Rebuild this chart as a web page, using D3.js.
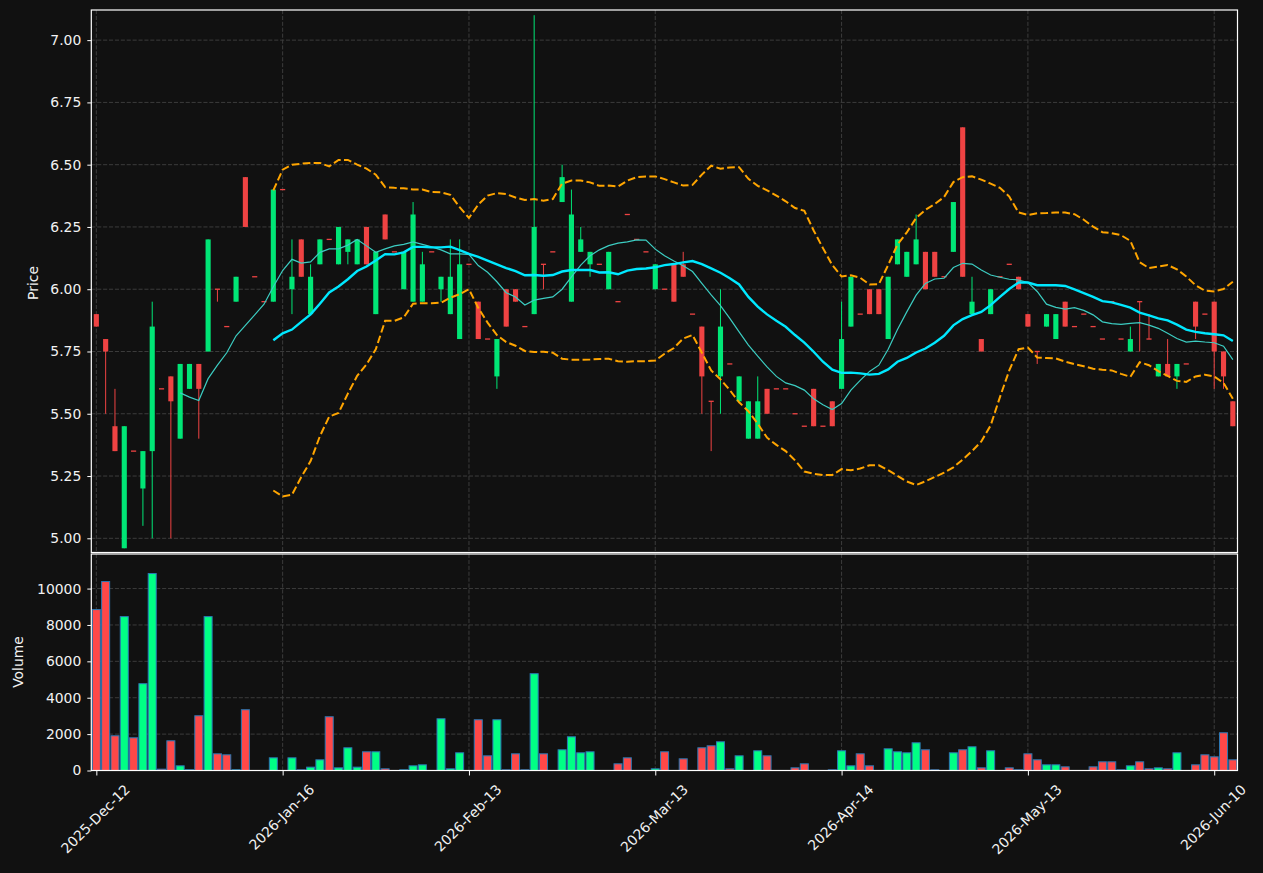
<!DOCTYPE html>
<html><head><meta charset="utf-8">
<script src="https://cdn.jsdelivr.net/npm/d3@7"></script>
<style>
body{margin:0;background:#111111;}
svg{display:block;}
text{font-family:"DejaVu Sans",sans-serif;}
</style>
</head><body>
<svg id="chart" width="1263" height="873"></svg>
<script>
// ---------------- data ----------------
const xTickIndex = [0, 20, 40, 60, 80, 100, 120];
const xTickLabels = ["2025-Dec-12","2026-Jan-16","2026-Feb-13","2026-Mar-13","2026-Apr-14","2026-May-13","2026-Jun-10"];
const priceTicks = [5.00, 5.25, 5.50, 5.75, 6.00, 6.25, 6.50, 6.75, 7.00];
const volumeTicks = [0, 2000, 4000, 6000, 8000, 10000];

const opens = [
5.90,5.80,5.45,4.96,5.35,5.20,5.35,5.60,5.65,5.40,
5.60,5.70,5.75,6.00,5.85,5.95,6.45,6.05,5.95,5.95,
6.40,6.00,6.20,5.90,6.10,6.20,6.10,6.15,6.10,6.25,
5.90,6.30,6.15,6.00,5.95,5.95,6.15,6.00,5.90,5.80,
6.10,5.95,5.80,5.65,6.00,6.00,5.85,5.90,6.10,6.15,
6.35,5.95,6.15,6.10,6.10,6.00,5.95,6.30,6.20,6.15,
6.00,6.00,6.10,6.10,5.90,5.85,5.55,5.65,5.70,5.55,
5.40,5.40,5.60,5.60,5.60,5.50,5.45,5.60,5.45,5.55,
5.60,5.85,5.90,6.00,6.00,5.80,6.10,6.05,6.10,6.15,
6.15,6.05,6.15,6.65,5.90,5.80,5.90,6.05,6.10,6.05,
5.90,5.75,5.85,5.80,5.95,5.85,5.90,5.85,5.80,5.95,
5.80,5.75,5.95,5.80,5.65,5.70,5.65,5.70,5.95,5.90,
5.95,5.75,5.55];
const highs = [
5.90,5.80,5.60,5.45,5.35,5.35,5.95,5.60,5.65,5.70,
5.70,5.70,6.20,6.00,5.85,6.05,6.45,6.05,5.95,6.40,
6.40,6.20,6.20,6.10,6.20,6.20,6.25,6.20,6.20,6.25,
6.15,6.30,6.15,6.15,6.35,6.15,6.15,6.05,6.20,6.20,
6.10,5.95,5.80,5.80,6.00,6.00,5.85,7.10,6.10,6.15,
6.50,6.40,6.25,6.15,6.10,6.15,5.95,6.30,6.20,6.15,
6.10,6.00,6.10,6.15,5.90,5.85,5.55,6.00,5.70,5.65,
5.55,5.65,5.60,5.60,5.60,5.50,5.45,5.60,5.45,5.55,
5.95,6.05,5.90,6.00,6.00,6.05,6.20,6.15,6.30,6.15,
6.15,6.05,6.35,6.65,6.05,5.80,6.00,6.05,6.10,6.05,
5.90,5.75,5.90,5.90,5.95,5.85,5.90,5.85,5.80,5.95,
5.80,5.85,5.95,5.90,5.70,5.80,5.70,5.70,5.95,5.90,
5.95,5.75,5.55];
const lows = [
5.85,5.50,5.35,4.96,5.35,5.05,5.00,5.60,5.00,5.40,
5.60,5.40,5.75,5.95,5.85,5.95,6.25,6.05,5.95,5.95,
6.40,5.90,6.05,5.90,6.10,6.20,6.10,6.10,6.10,6.10,
5.90,6.20,6.15,6.00,5.95,5.95,6.15,5.95,5.90,5.80,
6.10,5.80,5.80,5.60,5.85,5.95,5.85,5.90,6.00,6.15,
6.35,5.95,6.15,6.05,6.10,6.00,5.95,6.30,6.20,6.15,
6.00,6.00,5.95,6.05,5.90,5.50,5.35,5.50,5.70,5.55,
5.40,5.40,5.50,5.60,5.60,5.50,5.45,5.45,5.45,5.45,
5.60,5.85,5.90,5.90,5.90,5.80,6.10,6.05,6.10,6.00,
6.05,6.05,6.15,6.05,5.90,5.75,5.90,6.05,6.10,6.00,
5.85,5.70,5.85,5.80,5.85,5.85,5.90,5.85,5.80,5.95,
5.80,5.75,5.75,5.80,5.65,5.65,5.60,5.70,5.80,5.90,
5.60,5.60,5.45];
const closes = [
5.85,5.75,5.35,5.45,5.35,5.35,5.85,5.60,5.55,5.70,
5.70,5.60,6.20,6.00,5.85,6.05,6.25,6.05,5.95,6.40,
6.40,6.05,6.05,6.05,6.20,6.20,6.25,6.20,6.20,6.10,
6.15,6.20,6.15,6.15,6.30,6.10,6.15,6.05,6.05,6.10,
6.10,5.80,5.80,5.80,5.85,5.95,5.85,6.25,6.10,6.15,
6.45,6.30,6.20,6.15,6.10,6.15,5.95,6.30,6.20,6.15,
6.10,6.00,5.95,6.05,5.90,5.65,5.55,5.85,5.70,5.65,
5.55,5.55,5.50,5.60,5.60,5.50,5.45,5.45,5.45,5.45,
5.80,6.05,5.90,5.90,5.90,6.05,6.20,6.15,6.20,6.00,
6.05,6.05,6.35,6.05,5.95,5.75,6.00,6.05,6.10,6.00,
5.85,5.75,5.90,5.90,5.85,5.85,5.90,5.85,5.80,5.95,
5.80,5.80,5.95,5.80,5.70,5.65,5.70,5.70,5.85,5.90,
5.75,5.65,5.45];
const volumes = [
8845,10386,1908,8459,1798,4771,10826,73,1633,257,
40,3009,8459,917,862,40,3340,0,0,697,
0,697,37,184,587,2954,147,1248,184,1028,
1028,92,0,37,257,312,0,2844,92,973,
0,2789,807,2789,37,917,37,5321,917,0,
1138,1853,973,1028,0,0,367,697,0,0,
92,1028,0,642,0,1248,1358,1578,92,807,
0,1083,807,0,0,147,367,0,0,37,
1083,257,917,257,0,1193,1028,973,1523,1138,
37,0,973,1138,1303,147,1083,0,147,37,
917,587,312,312,202,0,0,202,477,477,
37,257,477,92,147,92,973,0,312,862,
752,2074,587];

// indicator lines (null where not drawn)
const ma10 = [
null,null,null,null,null,null,null,null,null,5.584,
5.567,5.553,5.641,5.695,5.745,5.813,5.855,5.897,5.940,6.010,
6.075,6.120,6.105,6.110,6.148,6.162,6.162,6.177,6.200,6.174,
6.148,6.162,6.174,6.180,6.190,6.180,6.170,6.158,6.142,6.142,
6.140,6.095,6.068,6.030,5.986,5.969,5.937,5.956,5.963,5.969,
6.000,6.050,6.097,6.134,6.158,6.175,6.185,6.190,6.198,6.197,
6.161,6.134,6.113,6.094,6.071,6.023,5.977,5.934,5.883,5.829,
5.776,5.731,5.688,5.650,5.624,5.613,5.595,5.560,5.536,5.517,
5.541,5.595,5.634,5.670,5.695,5.759,5.838,5.909,5.976,6.023,
6.041,6.044,6.087,6.104,6.101,6.077,6.057,6.048,6.040,6.037,
6.027,5.991,5.940,5.927,5.920,5.926,5.915,5.897,5.869,5.862,
5.859,5.863,5.866,5.856,5.843,5.823,5.802,5.788,5.792,5.788,
5.785,5.771,5.717];
const ma20 = [
null,null,null,null,null,null,null,null,null,null,
null,null,null,null,null,null,null,null,null,5.795,
5.823,5.838,5.869,5.899,5.942,5.987,6.011,6.040,6.073,6.091,
6.115,6.141,6.140,6.148,6.170,6.170,6.168,6.168,6.171,6.157,
6.142,6.130,6.115,6.100,6.085,6.073,6.056,6.057,6.054,6.057,
6.071,6.077,6.077,6.077,6.067,6.068,6.060,6.075,6.081,6.083,
6.088,6.097,6.101,6.108,6.113,6.101,6.084,6.066,6.044,6.019,
5.969,5.930,5.899,5.873,5.849,5.816,5.786,5.749,5.709,5.677,
5.664,5.665,5.662,5.657,5.660,5.678,5.709,5.724,5.746,5.762,
5.785,5.813,5.855,5.880,5.896,5.909,5.936,5.969,6.001,6.027,
6.027,6.016,6.016,6.016,6.013,5.999,5.984,5.969,5.952,5.947,
5.937,5.926,5.906,5.895,5.883,5.875,5.858,5.838,5.829,5.823,
5.819,5.815,5.792];
const bbUpper = [
null,null,null,null,null,null,null,null,null,null,
null,null,null,null,null,null,null,null,null,6.397,
6.480,6.500,6.504,6.507,6.507,6.493,6.519,6.519,6.500,6.484,
6.460,6.410,6.407,6.405,6.400,6.400,6.390,6.389,6.379,6.330,
6.286,6.340,6.376,6.386,6.382,6.368,6.358,6.362,6.355,6.362,
6.424,6.436,6.436,6.429,6.415,6.416,6.412,6.436,6.450,6.453,
6.453,6.442,6.429,6.416,6.419,6.460,6.496,6.484,6.489,6.490,
6.443,6.415,6.397,6.376,6.353,6.326,6.315,6.236,6.165,6.097,
6.051,6.056,6.046,6.019,6.020,6.097,6.179,6.228,6.286,6.319,
6.342,6.370,6.430,6.450,6.453,6.440,6.424,6.407,6.372,6.308,
6.298,6.305,6.306,6.308,6.308,6.301,6.279,6.251,6.229,6.225,
6.217,6.194,6.108,6.085,6.091,6.097,6.080,6.051,6.016,5.994,
5.991,6.001,6.030];
const bbLower = [
null,null,null,null,null,null,null,null,null,null,
null,null,null,null,null,null,null,null,null,5.192,
5.168,5.175,5.246,5.310,5.410,5.489,5.503,5.581,5.652,5.698,
5.759,5.873,5.873,5.887,5.942,5.944,5.944,5.946,5.966,5.980,
6.000,5.925,5.866,5.816,5.788,5.773,5.752,5.748,5.749,5.745,
5.721,5.717,5.717,5.718,5.720,5.721,5.711,5.709,5.711,5.711,
5.714,5.741,5.764,5.802,5.816,5.745,5.674,5.638,5.595,5.546,
5.510,5.460,5.404,5.375,5.350,5.313,5.268,5.259,5.254,5.254,
5.278,5.273,5.280,5.293,5.293,5.274,5.251,5.228,5.214,5.229,
5.246,5.264,5.285,5.316,5.350,5.389,5.453,5.567,5.674,5.759,
5.766,5.726,5.724,5.722,5.709,5.699,5.691,5.681,5.677,5.674,
5.660,5.648,5.707,5.695,5.671,5.652,5.632,5.628,5.650,5.657,
5.650,5.624,5.560];

// ---------------- layout & style ----------------
const W = 1263, H = 873;
const L = 91.3, R = 1237.5;
const pTop = 10, pBot = 552.5;
const vTop = 554, vBot = 770.5;
const bg = "#111111";
const upC = "#00e676", dnC = "#ef4343";
const volUp = "#00ff85", volDn = "#ff4848", volEdge = "#2b78b5";
const gridC = "#3c3c3c", textC = "#f2f2f2";
const fs = 13.9;

const svg = d3.select("#chart");
svg.append("rect").attr("width", W).attr("height", H).attr("fill", bg);

const n = closes.length;
const idx = d3.range(n);
const x = d3.scaleLinear().domain([-0.54, 122.5]).range([L, R]);
const step = x(1) - x(0);
const yP = d3.scaleLinear().domain([4.943, 7.121]).range([pBot, pTop]);
const yV = d3.scaleLinear().domain([0, 11900]).range([vBot, vTop]);

const defs = svg.append("defs");
defs.append("clipPath").attr("id","clipP").append("rect")
  .attr("x", L).attr("y", pTop).attr("width", R - L).attr("height", pBot - pTop);
defs.append("clipPath").attr("id","clipV").append("rect")
  .attr("x", L).attr("y", vTop).attr("width", R - L).attr("height", vBot - vTop);

// grid
const grid = svg.append("g").attr("stroke", gridC).attr("stroke-width", 1).attr("stroke-dasharray", "4.1,1.8").attr("fill","none");
priceTicks.forEach(v => grid.append("line").attr("x1", L).attr("x2", R).attr("y1", yP(v)).attr("y2", yP(v)));
volumeTicks.filter(v => v > 0).forEach(v => grid.append("line").attr("x1", L).attr("x2", R).attr("y1", yV(v)).attr("y2", yV(v)));
xTickIndex.forEach(i => {
  grid.append("line").attr("x1", x(i)).attr("x2", x(i)).attr("y1", pTop).attr("y2", pBot);
  grid.append("line").attr("x1", x(i)).attr("x2", x(i)).attr("y1", vTop).attr("y2", vBot);
});

// candles
const isUp = i => closes[i] > opens[i];
const cg = svg.append("g").attr("clip-path", "url(#clipP)");
const bw = step * 0.55;
cg.selectAll("line.wick").data(idx).join("line")
  .attr("class","wick")
  .attr("x1", i => x(i)).attr("x2", i => x(i))
  .attr("y1", i => yP(highs[i])).attr("y2", i => yP(lows[i]))
  .attr("stroke", i => isUp(i) ? upC : dnC).attr("stroke-width", 1);
cg.selectAll("rect.body").data(idx).join("rect")
  .attr("class","body")
  .attr("x", i => x(i) - bw / 2).attr("width", bw)
  .attr("y", i => {
    const t = yP(Math.max(opens[i], closes[i])), b = yP(Math.min(opens[i], closes[i]));
    return (b - t) < 1.3 ? (t + b) / 2 - 0.65 : t;
  })
  .attr("height", i => Math.max(1.3, yP(Math.min(opens[i], closes[i])) - yP(Math.max(opens[i], closes[i]))))
  .attr("fill", i => isUp(i) ? upC : dnC);

// indicator lines
const mkLine = arr => d3.line().defined(i => arr[i] != null).x(i => x(i)).y(i => yP(arr[i]))(idx);
const lg = svg.append("g").attr("clip-path", "url(#clipP)").attr("fill", "none");
lg.append("path").attr("d", mkLine(ma10)).attr("stroke", "#3ccdc2").attr("stroke-width", 1.2);
lg.append("path").attr("d", mkLine(ma20)).attr("stroke", "#00e8ff").attr("stroke-width", 2.4);
lg.append("path").attr("d", mkLine(bbUpper)).attr("stroke", "#ffa500").attr("stroke-width", 2).attr("stroke-dasharray", "7.7,3.3");
lg.append("path").attr("d", mkLine(bbLower)).attr("stroke", "#ffa500").attr("stroke-width", 2).attr("stroke-dasharray", "7.7,3.3");

// volume bars
const vg = svg.append("g").attr("clip-path", "url(#clipV)");
const vw = step * 0.86;
vg.selectAll("rect").data(idx.filter(i => volumes[i] > 0)).join("rect")
  .attr("x", i => x(i) - vw / 2).attr("width", vw)
  .attr("y", i => yV(volumes[i])).attr("height", i => yV(0) - yV(volumes[i]))
  .attr("fill", i => isUp(i) ? volUp : volDn)
  .attr("stroke", volEdge).attr("stroke-width", 1);

// axes
const styleAxis = g => {
  g.select(".domain").remove();
  g.selectAll(".tick line").attr("stroke", "#ffffff").attr("stroke-width", 1);
  g.selectAll(".tick text").attr("fill", textC).attr("font-size", fs).attr("font-family", "DejaVu Sans");
};
svg.append("g").attr("transform", `translate(${L},0)`)
  .call(d3.axisLeft(yP).tickValues(priceTicks).tickFormat(d3.format(".2f")).tickSize(4).tickPadding(6))
  .call(styleAxis);
svg.append("g").attr("transform", `translate(${L},0)`)
  .call(d3.axisLeft(yV).tickValues(volumeTicks).tickFormat(d3.format("d")).tickSize(4).tickPadding(6))
  .call(styleAxis);

const xa = svg.append("g").attr("transform", `translate(0,${vBot})`)
  .call(d3.axisBottom(x).tickValues(xTickIndex).tickFormat((d, k) => xTickLabels[k]).tickSize(5))
  .call(styleAxis);
xa.selectAll(".tick text").each(function(d) {
  const t = d3.select(this);
  t.attr("y", null).attr("dy", null).attr("text-anchor", "middle").attr("dominant-baseline", "central");
  const len = this.getComputedTextLength();
  const half = (len + 10) * 0.7071 / 2;
  t.attr("transform", `translate(-1.5, ${13 + half}) rotate(-45)`);
});

// spines
const sp = svg.append("g").attr("fill", "none").attr("stroke", "#ffffff").attr("stroke-width", 1.2);
sp.append("rect").attr("x", L).attr("y", pTop).attr("width", R - L).attr("height", pBot - pTop);
sp.append("rect").attr("x", L).attr("y", vTop).attr("width", R - L).attr("height", vBot - vTop);

// axis titles
svg.append("text").attr("transform", "translate(38,283) rotate(-90)")
  .attr("text-anchor", "middle").attr("fill", textC).attr("font-size", fs).text("Price");
svg.append("text").attr("transform", "translate(23,662) rotate(-90)")
  .attr("text-anchor", "middle").attr("fill", textC).attr("font-size", fs).text("Volume");
</script>
</body></html>
